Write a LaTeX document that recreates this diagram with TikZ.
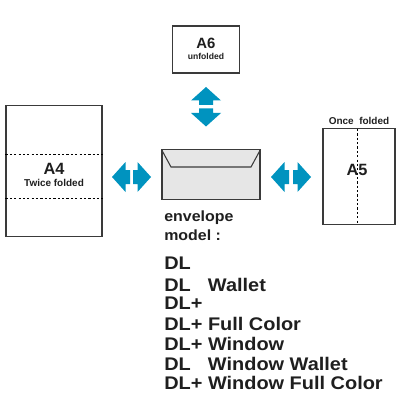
\documentclass[tikz,border=0pt]{standalone}
\usepackage{fontspec}
\setmainfont{Liberation Sans}
\newfontfamily\widefont[FakeStretch=1.09]{Liberation Sans}
\newfontfamily\capfont[FakeStretch=1.08]{Liberation Sans}
\usepackage{xcolor}
\usetikzlibrary{shapes,arrows,arrows.meta,positioning}
\definecolor{color1}{HTML}{0093BF}
\definecolor{color2}{HTML}{3A3A3A}
\definecolor{color3}{HTML}{E6E6E6}
\newcommand{\dlslot}[1]{\makebox[2.39em][l]{#1}}

\begin{document}
\begin{tikzpicture}[
  x=0.025cm,
  y=-0.025cm,
  every node/.style={inner sep=0pt, text=black!88},
  sheet/.style={draw=color2, line width=0.75pt, fill=white, minimum width=#1},
  fold/.style={line width=0.7pt, dash pattern=on 1.6pt off 1.5pt},
  papersize/.style={font=\bfseries\fontsize{11.6}{13}\selectfont},
  note/.style={font=\bfseries\fontsize{7.1}{8}\selectfont},
  caption/.style={font=\capfont\bfseries\fontsize{10.5}{12}\selectfont, anchor=base west},
  model/.style={font=\widefont\bfseries\fontsize{13}{14}\selectfont, anchor=base west},
  flow/.pic={\fill[color1] (0,0) -- (-13.5,-15) -- (-13.5,-7) -- (-18,-7) -- (-18,7) -- (-13.5,7) -- (-13.5,15) -- cycle;}
]
\useasboundingbox (0,0) rectangle (400,400);

% paper sizes
\node[sheet=47pt, minimum height=33.4pt] (a6) at (206,49.5) {};
\node[papersize, font=\bfseries\fontsize{10.6}{12}\selectfont] (a6name) at (206,43) {A6};
\node[note, font=\bfseries\fontsize{6.1}{8}\selectfont] (a6note) at (206,56.5) {unfolded};

\node[sheet=68.3pt, minimum height=92.5pt] (a4) at (54,171) {};
\coordinate (a4l1) at (a4.west |- 0,154);
\coordinate (a4r1) at (a4.east |- 0,154);
\coordinate (a4l2) at (a4.west |- 0,198);
\coordinate (a4r2) at (a4.east |- 0,198);
\draw[fold] (a4l1) -- (a4r1);
\draw[fold] (a4l2) -- (a4r2);
\node[papersize] (a4name) at (54,168.5) {A4};
\node[note] (a4note) at (54,182.5) {Twice folded};

\node[sheet=51.2pt, minimum height=67.6pt] (a5) at (359,176.5) {};
\coordinate (a5t) at (357,129);
\coordinate (a5b) at (357,224);
\draw[fold] (a5t) -- (a5b);
\node[papersize] (a5name) at (357,169.5) {A5};
\node[note] (a5note) at (359,120.5) {Once\hspace{0.55em}folded};

% envelope
\node[draw=color2, fill=color3, line width=0.75pt, minimum width=69.7pt, minimum height=34.9pt] (env) at (211,174.5) {};
\coordinate (flapl) at (171,167);
\coordinate (flapr) at (251,167);
\draw[color2, line width=0.75pt] (env.north west) -- (flapl) -- (flapr) -- (env.north east);

% arrows
\pic[rotate=90] at (206,87) {flow};
\pic[rotate=270] at (206,126.5) {flow};
\pic[rotate=180] at (112,177) {flow};
\pic at (151,177) {flow};
\pic[rotate=180] at (271,177) {flow};
\pic at (311,177) {flow};

% model list
\node[caption] (capa) at (164,221.7) {envelope};
\node[caption] (capb) at (164,240.7) {model :};
\node[model] (m1) at (164,269.5) {DL};
\node[model] (m2) at (164,291) {\dlslot{DL}Wallet};
\node[model] (m3) at (164,309.5) {DL+};
\node[model] (m4) at (164,330.5) {DL+ Full Color};
\node[model] (m5) at (164,350.5) {DL+ Window};
\node[model] (m6) at (164,370) {\dlslot{DL}Window Wallet};
\node[model] (m7) at (164,389.5) {DL+ Window Full Color};
\end{tikzpicture}
\end{document}
